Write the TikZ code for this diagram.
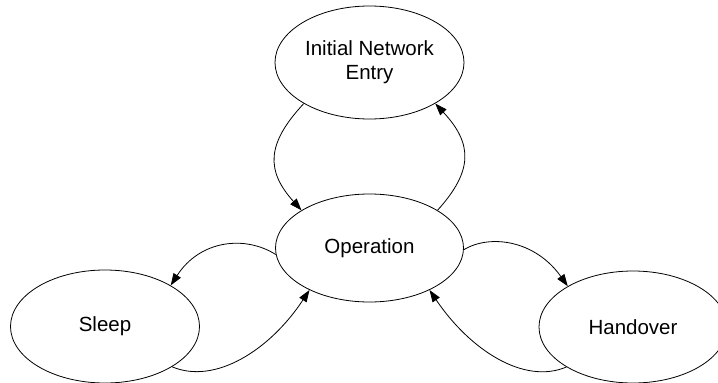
\documentclass[tikz,border=0pt]{standalone}
\usepackage{fontspec}
\setmainfont{Liberation Sans}
\usetikzlibrary{arrows.meta,shapes.geometric}
\begin{document}
\begin{tikzpicture}[x=1pt,y=-1pt,
  state/.style={draw,ellipse,line width=0.8pt,inner sep=0pt,
    minimum width=189pt,minimum height=113pt,align=center,
    font=\fontsize{20.5}{24}\selectfont},
  trans/.style={line width=0.8pt,-{Triangle[length=12pt,width=8.5pt]}}]
  \useasboundingbox (0,0) rectangle (718,383);
  \clip (0,0) rectangle (718,383);
  \node[state] (entry) at (369.5,62.5) {Initial Network\\Entry};
  \node[state,minimum height=108pt,minimum width=188pt] (op) at (369.5,248) {Operation};
  \node[state] (sleep) at (105,326.5) {Sleep};
  \node[state,minimum width=188pt,minimum height=112pt] (hand) at (633,327) {Handover};
  % entry <-> operation
  \draw[trans] (entry.212) .. controls (266,144) and (266,171) .. (op.151);
  \draw[trans] (op.29) .. controls (473,171) and (473,144) .. (entry.328);
  % operation <-> sleep
  \draw[trans] (op.184) .. controls (245,235) and (200,240) .. (sleep.32);
  \draw[trans] (sleep.329) .. controls (215,385) and (270,350) .. (op.215);
  % operation <-> handover
  \draw[trans] (op.359) .. controls (490,234) and (535,240) .. (hand.148);
  \draw[trans] (hand.211) .. controls (524,385) and (470,350) .. (op.325);
\end{tikzpicture}
\end{document}
